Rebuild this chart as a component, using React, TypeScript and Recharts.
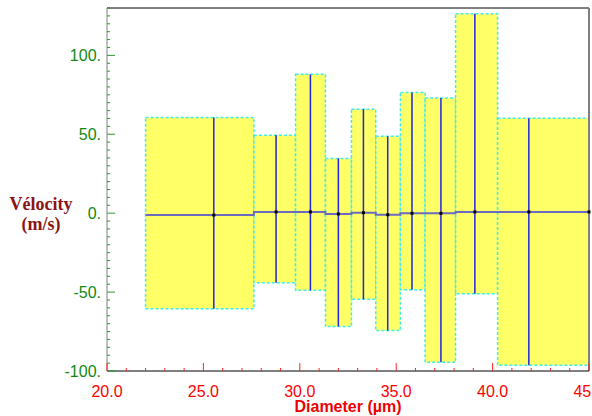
import { ComposedChart, Line, ReferenceArea, ReferenceLine, Scatter, XAxis, YAxis } from "recharts";

// bin edges along diameter (µm) and per-bin velocity stats (m/s)
const binEdges = [22.0, 27.62, 29.78, 31.33, 32.68, 33.94, 35.22, 36.5, 38.08, 40.26, 45.0];
const binCenters = [25.54, 28.77, 30.55, 32.0, 33.3, 34.56, 35.82, 37.32, 39.08, 41.88];
const meanVelocity = [-1.2, 0.8, 0.8, -0.5, 0.3, -1.0, -0.1, -0.1, 0.8, 0.8];
const upperVelocity = [60.6, 49.4, 88.0, 34.7, 65.9, 48.7, 76.5, 72.9, 126.4, 60.2];
const lowerVelocity = [-60.6, -44.1, -48.9, -71.8, -54.6, -74.4, -48.5, -94.4, -51.1, -96.3];

const xMajorTicks = [20, 25, 30, 35, 40, 45];
const xTicks = [20, 21, 22, 23, 24, 25, 26, 27, 28, 29, 30, 31, 32, 33, 34, 35, 36, 37, 38, 39, 40, 41, 42, 43, 44, 45];
const yMajorTicks = [-100, -50, 0, 50, 100];
const yTicks = [
  -100, -95, -90, -85, -80, -75, -70, -65, -60, -55, -50, -45, -40, -35, -30, -25, -20, -15, -10, -5,
  0, 5, 10, 15, 20, 25, 30, 35, 40, 45, 50, 55, 60, 65, 70, 75, 80, 85, 90, 95, 100, 105, 110, 115, 120, 125, 130,
];

const stepData = binEdges.map((x, i) => ({ x, mean: meanVelocity[Math.min(i, meanVelocity.length - 1)] }));
const dotData = [
  ...binCenters.map((x, i) => ({ x, mean: meanVelocity[i] })),
  { x: binEdges[binEdges.length - 1], mean: meanVelocity[meanVelocity.length - 1] },
];

const sans = "'Liberation Sans', Arial, sans-serif";

function YTick({ x, y, payload }: any) {
  const major = yMajorTicks.includes(payload.value);
  return <g>
    <line x1={x} x2={x + (major ? 8 : 3)} y1={y} y2={y} stroke="#2e962e" />
    {major && <text x={x - 6} y={y} dy={6} textAnchor="end" fill="#0f8a0f" fontSize={16} fontFamily={sans}>{`${payload.value}.`}</text>}
  </g>;
}

function XTick({ x, y, payload }: any) {
  const major = xMajorTicks.includes(payload.value);
  return <g>
    <line x1={x} x2={x} y1={y} y2={y - (major ? 8 : 3)} stroke="#ff2020" />
    {major && <text x={x} y={y + 26} textAnchor="middle" fill="#ff0000" fontSize={16} fontFamily={sans}>{payload.value.toFixed(1)}</text>}
  </g>;
}

function VelocityLabel() {
  return <text textAnchor="middle" fill="#8b1414" fontSize={18} fontWeight="bold" fontFamily="'Liberation Serif', 'Times New Roman', serif">
    <tspan x={41} y={210}>Vélocity</tspan>
    <tspan x={41} y={230}>(m/s)</tspan>
  </text>;
}

function Dot({ cx, cy }: any) {
  return <rect x={cx - 1.5} y={cy - 1.5} width={3} height={3} fill="#000" />;
}

export default function App() {
  return <div style={{ position: "absolute", left: 0, top: 0, width: 592, height: 416, background: "#fff" }}>
    <ComposedChart width={592} height={416} data={stepData} margin={{ top: 8, right: 3, bottom: 0, left: 0 }}>
      <XAxis type="number" dataKey="x" domain={[20, 45]} ticks={xTicks} interval={0} tickSize={0} tickMargin={0}
        tick={<XTick />} axisLine={{ stroke: "#000" }} height={45}
        label={{ value: "Diameter (µm)", position: "insideBottom", offset: 4, fill: "#ee0000", fontSize: 16, fontWeight: "bold", fontFamily: sans }} />
      <YAxis type="number" domain={[-100, 130]} ticks={yTicks} interval={0} tickSize={0} tickMargin={0}
        tick={<YTick />} axisLine={{ stroke: "#808080" }} width={107} label={<VelocityLabel />} />
      {binCenters.map((c, i) => <ReferenceArea key={`box-${c}`} x1={binEdges[i]} x2={binEdges[i + 1]} y1={lowerVelocity[i]} y2={upperVelocity[i]}
        fill="#ffff66" fillOpacity={1} stroke="#40ecec" strokeWidth={1.5} strokeDasharray="3 2" />)}
      {binCenters.map((c, i) => <ReferenceLine key={`bar-${c}`} segment={[{ x: c, y: lowerVelocity[i] }, { x: c, y: upperVelocity[i] }]}
        stroke="#2424e0" strokeWidth={1.5} />)}
      <ReferenceLine y={130} stroke="#000" />
      <ReferenceLine x={45} stroke="#808080" strokeWidth={2} />
      <Line dataKey="mean" type="stepAfter" stroke="#6a6ac0" strokeWidth={2} dot={false} activeDot={false} isAnimationActive={false} />
      <Scatter data={dotData} dataKey="mean" shape={<Dot />} isAnimationActive={false} />
    </ComposedChart>
  </div>;
}
